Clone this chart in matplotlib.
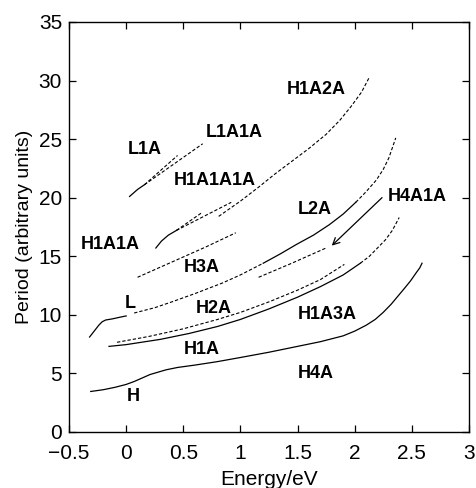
import matplotlib
matplotlib.use("Agg")
import matplotlib.pyplot as plt

plt.rcParams['font.family'] = ['Liberation Sans', 'DejaVu Sans']

# H branch (solid)
h_x = [-0.31, -0.2, -0.1, 0.0, 0.07, 0.14, 0.21, 0.28, 0.35, 0.45, 0.6, 0.8, 1.0, 1.25, 1.45,
       1.7, 1.9, 2.0, 2.1, 2.18, 2.25, 2.32, 2.38, 2.44, 2.49, 2.54, 2.57, 2.59]
h_y = [3.45, 3.6, 3.8, 4.05, 4.3, 4.6, 4.9, 5.1, 5.3, 5.5, 5.7, 6.0, 6.35, 6.8, 7.2,
       7.7, 8.2, 8.6, 9.1, 9.6, 10.2, 10.9, 11.6, 12.3, 12.9, 13.6, 14.0, 14.4]

# H1A branch (solid, dashed at the top)
h1a_x = [-0.15, 0.0, 0.3, 0.55, 0.8, 1.0, 1.25, 1.5, 1.7, 1.9, 2.05]
h1a_y = [7.3, 7.45, 7.9, 8.4, 9.0, 9.6, 10.5, 11.5, 12.4, 13.4, 14.4]
h1a_top_x = [2.05, 2.13, 2.2, 2.27, 2.33, 2.39]
h1a_top_y = [14.4, 15.0, 15.7, 16.4, 17.2, 18.3]

# H2A branch (dashed)
h2a_x = [-0.08, 0.2, 0.5, 0.8, 1.0, 1.25, 1.5, 1.7, 1.91]
h2a_y = [7.65, 8.15, 8.8, 9.6, 10.2, 11.1, 12.1, 13.0, 14.3]

# L branch: solid start, dashed middle, solid L2A part, dashed end
l_start_x = [-0.32, -0.28, -0.24, -0.21, -0.18, -0.12, -0.05, 0.0]
l_start_y = [8.1, 8.6, 9.1, 9.4, 9.55, 9.65, 9.8, 9.9]
l_mid_x = [0.07, 0.25, 0.4, 0.6, 0.84, 1.0, 1.2]
l_mid_y = [10.15, 10.6, 11.1, 11.8, 12.7, 13.4, 14.4]
l2a_x = [1.2, 1.35, 1.49, 1.64, 1.78, 1.9, 2.01]
l2a_y = [14.4, 15.2, 16.0, 16.8, 17.7, 18.6, 19.6]
l_end_x = [2.01, 2.1, 2.19, 2.25, 2.30, 2.36]
l_end_y = [19.6, 20.5, 21.5, 22.4, 23.4, 25.1]

# short dashed piece under the arrow
h4a1a_x = [1.16, 1.45, 1.75]
h4a1a_y = [13.2, 14.4, 15.7]

# H3A (dashed)
h3a_x = [0.1, 0.4, 0.7, 0.96]
h3a_y = [13.2, 14.5, 15.8, 17.0]

# H1A1A group
h1a1a_x = [0.26, 0.31, 0.37, 0.44]
h1a1a_y = [15.7, 16.3, 16.8, 17.2]
h1a1a_b1_x = [0.44, 0.66]
h1a1a_b1_y = [17.2, 18.7]
h1a1a_b2_x = [0.44, 0.92]
h1a1a_b2_y = [17.2, 19.6]

# H1A2A (dashed)
h1a2a_x = [0.81, 1.0, 1.16, 1.3, 1.45, 1.6, 1.75, 1.87, 1.97, 2.06, 2.13]
h1a2a_y = [18.4, 19.7, 20.9, 22.0, 23.1, 24.2, 25.4, 26.6, 27.8, 29.0, 30.3]

# L1A group
l1a_x = [0.03, 0.1, 0.16]
l1a_y = [20.1, 20.7, 21.1]
l1a_b1_x = [0.16, 0.45]
l1a_b1_y = [21.1, 23.6]
l1a_b2_x = [0.16, 0.67]
l1a_b2_y = [21.1, 24.6]

labels = ["H1A2A", "L1A1A", "L1A", "H1A1A1A", "L2A", "H4A1A", "H1A1A",
          "H3A", "L", "H2A", "H1A3A", "H1A", "H4A", "H"]
label_x = [1.66, 0.95, 0.16, 0.78, 1.65, 2.55, -0.14, 0.66, 0.04, 0.77, 1.76, 0.66, 1.66, 0.06]
label_y = [29.2, 25.6, 24.1, 21.5, 19.0, 20.1, 16.0, 14.0, 11.0, 10.5, 10.0, 7.0, 5.0, 3.0]

fig = plt.figure(figsize=(4.76, 4.88), dpi=100)
ax = fig.add_axes([0.145, 0.115, 0.84, 0.84])

solid = dict(color='black', lw=0.9)
dash = dict(color='black', lw=0.8, dashes=(3, 1.8))

ax.plot(h_x, h_y, **solid)
ax.plot(h1a_x, h1a_y, **solid)
ax.plot(h1a_top_x, h1a_top_y, **dash)
ax.plot(h2a_x, h2a_y, **dash)
ax.plot(l_start_x, l_start_y, **solid)
ax.plot(l_mid_x, l_mid_y, **dash)
ax.plot(l2a_x, l2a_y, **solid)
ax.plot(l_end_x, l_end_y, **dash)
ax.plot(h4a1a_x, h4a1a_y, **dash)
ax.plot(h3a_x, h3a_y, **dash)
ax.plot(h1a1a_x, h1a1a_y, **solid)
ax.plot(h1a1a_b1_x, h1a1a_b1_y, **dash)
ax.plot(h1a1a_b2_x, h1a1a_b2_y, **dash)
ax.plot(h1a2a_x, h1a2a_y, **dash)
ax.plot(l1a_x, l1a_y, **solid)
ax.plot(l1a_b1_x, l1a_b1_y, **dash)
ax.plot(l1a_b2_x, l1a_b2_y, **dash)

ax.annotate("", xy=(1.80, 15.9), xytext=(2.24, 20.0),
            arrowprops=dict(arrowstyle='->', color='black', lw=0.9,
                            shrinkA=0, shrinkB=0, mutation_scale=12))

for t, x, y in zip(labels, label_x, label_y):
    ax.text(x, y, t, ha='center', va='center', fontsize=13, fontweight='bold')

ax.set_xlim(-0.5, 3)
ax.set_ylim(0, 35)
ax.set_xticks([-0.5, 0, 0.5, 1, 1.5, 2, 2.5, 3])
ax.set_xticklabels(["\u22120.5", "0", "0.5", "1", "1.5", "2", "2.5", "3"])
ax.set_yticks([0, 5, 10, 15, 20, 25, 30, 35])
ax.tick_params(direction='in', top=True, right=True, length=5, width=0.9, labelsize=15)
ax.tick_params(axis='x', pad=9)
ax.tick_params(axis='y', pad=5)
for s in ax.spines.values():
    s.set_linewidth(1.0)
ax.set_xlabel("Energy/eV", fontsize=15, labelpad=5)
ax.set_ylabel("Period (arbitrary units)", fontsize=14, labelpad=4)

fig.savefig("out.png", dpi=100)
